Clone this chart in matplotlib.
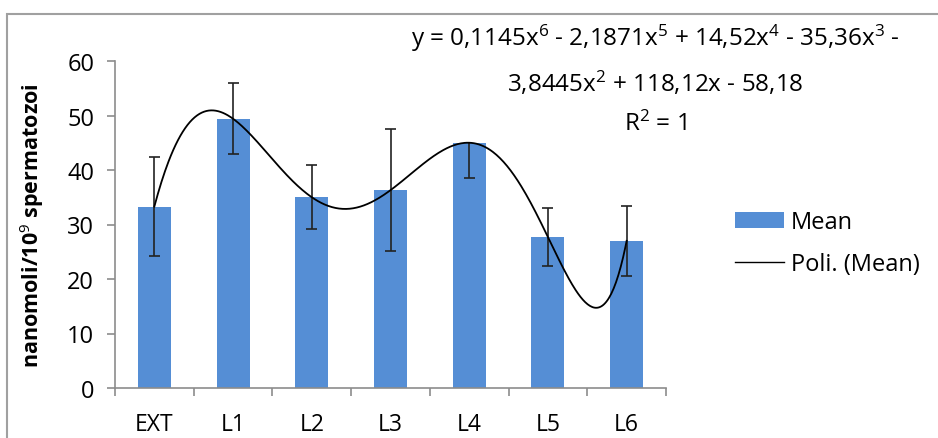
import numpy as np
import matplotlib
matplotlib.use('Agg')
import matplotlib.pyplot as plt
from matplotlib.patches import Rectangle, Patch
from matplotlib.lines import Line2D

categories = ['EXT', 'L1', 'L2', 'L3', 'L4', 'L5', 'L6']
means = [33.3, 49.4, 35.0, 36.3, 45.0, 27.7, 27.0]
err_lower = [9.0, 6.5, 5.9, 11.15, 6.5, 5.35, 6.45]
err_upper = [9.0, 6.5, 5.9, 11.15, 0.0, 5.35, 6.45]
yticks = [0, 10, 20, 30, 40, 50, 60]
eq_lines = ["y = 0,1145x$^{6}$ - 2,1871x$^{5}$ + 14,52x$^{4}$ - 35,36x$^{3}$ -",
            "3,8445x$^{2}$ + 118,12x - 58,18",
            "R$^{2}$ = 1"]

FONT = 'Open Sans'
plt.rcParams['font.family'] = [FONT, 'DejaVu Sans']
plt.rcParams['mathtext.fontset'] = 'custom'
plt.rcParams['mathtext.rm'] = FONT
plt.rcParams['mathtext.it'] = FONT + ':italic'
plt.rcParams['mathtext.bf'] = FONT + ':bold'

bar_color = '#558ED5'
axis_color = '#8c8c8c'

fig = plt.figure(figsize=(9.38, 4.39), dpi=100)
ax = fig.add_axes([115/938, 1-389/439, (666-115)/938, (389-62)/439])

x = np.arange(1, len(categories) + 1)
m = np.array(means)
lo = np.array(err_lower)
up = np.array(err_upper)

ax.bar(x, m, width=0.42, color=bar_color, zorder=2)

# error bars
ax.vlines(x, m - lo, m + up, color='#222222', lw=1.2, zorder=3)
cap = 0.07
ax.hlines((m - lo)[lo > 0], (x - cap)[lo > 0], (x + cap)[lo > 0], color='#222222', lw=1.2, zorder=3)
ax.hlines((m + up)[up > 0], (x - cap)[up > 0], (x + cap)[up > 0], color='#222222', lw=1.2, zorder=3)

# polynomial trendline (order 6) fitted to the means
coeffs = np.polyfit(x, m, 6)
xs = np.linspace(1, 7, 400)
ax.plot(xs, np.polyval(coeffs, xs), color='black', lw=1.3, zorder=4)

ax.set_xlim(0.5, 7.5)
ax.set_ylim(0, 60)
ax.set_yticks(yticks)
ax.set_yticklabels([str(t) for t in yticks], fontsize=17)
ax.set_xticks(x)
ax.set_xticklabels(categories, fontsize=16.5)
ax.set_xticks(np.arange(0.5, 8, 1), minor=True)
ax.tick_params(axis='x', which='major', length=0, pad=17)
ax.tick_params(axis='x', which='minor', length=6, color=axis_color, direction='out', width=1.2)
ax.tick_params(axis='y', length=6, color=axis_color, direction='out', width=1.2, pad=9)

for s in ['top', 'right']:
    ax.spines[s].set_visible(False)
for s in ['left', 'bottom']:
    ax.spines[s].set_color(axis_color)
    ax.spines[s].set_linewidth(1.2)

ax.set_ylabel('nanomoli/10$^{9}$ spermatozoi', fontsize=15.5, fontweight='bold')
ax.yaxis.set_label_coords(-0.125, 0.5)

for line, yb in zip(eq_lines, [46, 92, 131]):
    fig.text(655/938, 1-yb/439, line, ha='center', va='baseline', fontsize=17.5)

handles = [Patch(facecolor=bar_color, edgecolor='none'),
           Line2D([0], [0], color='black', lw=1.0)]
fig.legend(handles, ['Mean', 'Poli. (Mean)'], loc='upper left',
           bbox_to_anchor=(714/938, 1-190/439), frameon=False, fontsize=17,
           handlelength=2.05, handleheight=0.65, handletextpad=0.3, labelspacing=0.75)

fig.patches.append(Rectangle((7/938, -0.1), 1.2, (439-15)/439 + 0.1,
                             transform=fig.transFigure, fill=False,
                             edgecolor='#a0a0a0', lw=1.5))

fig.savefig('out.png', dpi=100)
